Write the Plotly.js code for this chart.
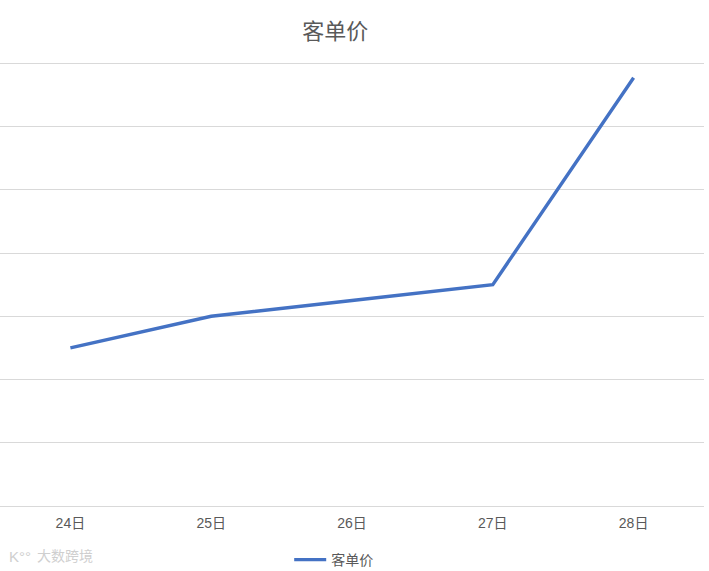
<!DOCTYPE html>
<html><head><meta charset="utf-8">
<script src="https://cdn.plot.ly/plotly-3.0.1.min.js"></script>
<style>html,body{margin:0;padding:0;background:#fff}</style></head>
<body><div id="c" style="width:709px;height:571px"></div>
<script>
const categories = ['24日','25日','26日','27日','28日'];
const values = [25, 30, 32.5, 35, 67.7];
const seriesName = '客单价';
const titleText = '客单价';
const watermarkText = '大数跨境';
const watermarkLogo = 'K°°';
const font = '"Liberation Sans", "Noto Sans CJK SC", sans-serif';
Plotly.newPlot('c', [{
  x: categories, y: values, type: 'scatter', mode: 'lines', name: seriesName,
  line: {color: '#4472C4', width: 3.4}
}], {
  width: 709, height: 571,
  margin: {l: 0, r: 5, t: 62, b: 64.5},
  paper_bgcolor: '#fff', plot_bgcolor: '#fff',
  title: {text: titleText, font: {family: font, size: 22, color: '#595959'}, x: 0.473, xanchor: 'center', y: 0.946, yanchor: 'middle'},
  xaxis: {type: 'category', range: [-0.5, 4.5], showgrid: false, ticks: '', showline: true, linecolor: '#d9d9d9', linewidth: 1,
    ticklabelstandoff: 4, tickfont: {family: font, size: 14, color: '#595959'}, fixedrange: true},
  yaxis: {range: [0, 70.2], dtick: 10, showticklabels: false, showgrid: true, gridcolor: '#d9d9d9', gridwidth: 1, zeroline: false, ticks: '', fixedrange: true},
  showlegend: true,
  legend: {orientation: 'h', x: 0.474, xanchor: 'center', yref: 'container', y: 0.0193, yanchor: 'middle', itemwidth: 32, font: {family: font, size: 14, color: '#595959'}},
  annotations: [
    {text: watermarkText, xref: 'paper', yref: 'paper', x: 0.092, y: -0.1136, xanchor: 'center', yanchor: 'middle', showarrow: false,
      font: {family: font, size: 14, color: '#cfcfcf'}},
    {text: watermarkLogo, xref: 'paper', yref: 'paper', x: 0.029, y: -0.1136, xanchor: 'center', yanchor: 'middle', showarrow: false,
      font: {family: font, size: 15, color: '#cfcfcf'}}
  ]
}, {displayModeBar: false});
</script></body></html>
